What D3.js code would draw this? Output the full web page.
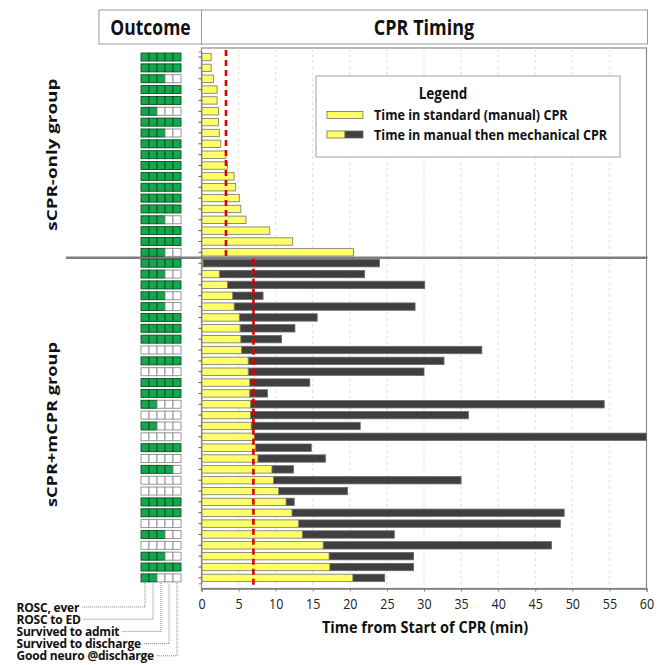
<!DOCTYPE html>
<html>
<head>
<meta charset="utf-8">
<script src="https://cdn.jsdelivr.net/npm/d3@7"></script>
<style>
  body { margin: 0; background: #fff; }
  svg { font-family: "Open Sans", "Noto Sans", sans-serif; }
</style>
</head>
<body>
<svg id="chart" width="665" height="665"></svg>
<script>
// sCPR-only group: minutes of manual CPR, one per patient (top to bottom)
var sManual = [1.3, 1.3, 1.6, 2.1, 2.1, 2.3, 2.3, 2.4, 2.6, 3.3, 3.5, 4.4, 4.6, 5.1, 5.3, 6.0, 9.2, 12.3, 20.5];
// outcome boxes filled (ROSC ever, ROSC to ED, admit, discharge, good neuro)
var sOutcome = [5, 5, 3, 5, 5, 2, 5, 3, 5, 5, 5, 5, 5, 5, 5, 3, 5, 5, 3];

// sCPR+mCPR group: manual minutes, then total minutes (manual + mechanical)
var mManual = [0.2, 2.4, 3.5, 4.2, 4.4, 5.1, 5.2, 5.3, 5.4, 6.3, 6.3, 6.5, 6.5, 6.6, 6.6,
               6.7, 7.1, 7.3, 7.6, 9.5, 9.7, 10.4, 11.4, 12.2, 13.1, 13.6, 16.4, 17.2, 17.3, 20.4];
var mTotal = [24.0, 22.0, 30.1, 8.3, 28.8, 15.6, 12.6, 10.8, 37.8, 32.7, 30.0, 14.6, 8.9, 54.3, 36.0,
              21.4, 60.0, 14.8, 16.7, 12.4, 35.0, 19.7, 12.5, 48.9, 48.4, 26.0, 47.2, 28.6, 28.6, 24.7];
var mOutcome = [5, 3, 5, 3, 3, 5, 5, 5, 0, 5, 0, 5, 5, 2, 0,
                2, 0, 5, 0, 4, 0, 0, 5, 5, 0, 3, 0, 3, 5, 2];

// group means (red dashed lines)
var groupMeans = [3.3, 7.0];

var outcomeLabels = ["ROSC, ever", "ROSC to ED", "Survived to admit", "Survived to discharge", "Good neuro @discharge"];
var groupLabels = ["sCPR-only group", "sCPR+mCPR group"];
var xTicks = [0, 5, 10, 15, 20, 25, 30, 35, 40, 45, 50, 55, 60];

// build rows
var rows = [];
sManual.forEach(function (d, i) {
  rows.push({ group: 0, manual: d, total: d, outcome: sOutcome[i] });
});
mManual.forEach(function (d, i) {
  rows.push({ group: 1, manual: d, total: mTotal[i], outcome: mOutcome[i] });
});
rows.forEach(function (d, i) { d.id = i; });

var svg = d3.select("#chart");

// text that is a bit taller than wide, like the original
function label(parent, x, y, str, size, k, anchor) {
  return parent.append("text")
    .attr("transform", "translate(" + x + "," + y + ") scale(1," + k + ")")
    .attr("text-anchor", anchor || "start")
    .attr("font-size", size).attr("font-weight", "bold").attr("fill", "#111")
    .text(str);
}

var plotLeft = 201.5, plotRight = 646.5, plotTop = 48, plotBottom = 588.5;

var x = d3.scaleLinear().domain([0, 60]).range([plotLeft, plotRight]);
var y = d3.scaleBand().domain(rows.map(function (d) { return d.id; }))
  .range([51.6, 583.3]).paddingInner(0.32).paddingOuter(0.16);
var rowY = function (d) { return y(d.id) + y.bandwidth() / 2; };

// header boxes
svg.append("rect").attr("x", 99).attr("y", 10).attr("width", plotLeft - 99).attr("height", 34)
  .attr("fill", "#fff").attr("stroke", "#9a9a9a");
svg.append("rect").attr("x", plotLeft).attr("y", 10).attr("width", 647.5 - plotLeft).attr("height", 34)
  .attr("fill", "#fff").attr("stroke", "#9a9a9a");
label(svg, 150.5, 34.5, "Outcome", 17.5, 1.2, "middle");
label(svg, 424, 34.5, "CPR Timing", 18, 1.15, "middle");

// plot frame
svg.append("rect").attr("x", plotLeft).attr("y", plotTop)
  .attr("width", plotRight - plotLeft).attr("height", plotBottom - plotTop)
  .attr("fill", "#fff").attr("stroke", "#8a8a8a").attr("stroke-width", 1.2);

// gridlines
svg.append("g").selectAll("line").data(xTicks.slice(1, -1)).enter().append("line")
  .attr("x1", function (d) { return x(d); }).attr("x2", function (d) { return x(d); })
  .attr("y1", plotTop).attr("y2", plotBottom)
  .attr("stroke", "#dcdcb8").attr("stroke-width", 0.8).attr("stroke-dasharray", "3,3");

// legend
var lg = svg.append("g");
lg.append("rect").attr("x", 316).attr("y", 76).attr("width", 304).attr("height", 81)
  .attr("fill", "#fff").attr("stroke", "#a0a0a0");
label(lg, 443, 99, "Legend", 13.5, 1.15, "middle");
lg.append("rect").attr("x", 327).attr("y", 111.5).attr("width", 36).attr("height", 7)
  .attr("fill", "#ffff66").attr("stroke", "#6e6e6e").attr("stroke-width", 0.8);
lg.append("rect").attr("x", 327).attr("y", 131).attr("width", 18).attr("height", 7)
  .attr("fill", "#ffff66").attr("stroke", "#6e6e6e").attr("stroke-width", 0.8);
lg.append("rect").attr("x", 345).attr("y", 131).attr("width", 18).attr("height", 7)
  .attr("fill", "#3f3f3f").attr("stroke", "#6e6e6e").attr("stroke-width", 0.8);
label(lg, 374, 120, "Time in standard (manual) CPR", 12.6, 1.12);
label(lg, 374, 139.5, "Time in manual then mechanical CPR", 12.6, 1.12);

// bars
var bars = svg.append("g");
bars.selectAll(".mech").data(rows.filter(function (d) { return d.group == 1; })).enter().append("rect")
  .attr("class", "mech")
  .attr("x", function (d) { return x(d.manual); })
  .attr("y", function (d) { return y(d.id); })
  .attr("width", function (d) { return x(d.total) - x(d.manual); })
  .attr("height", y.bandwidth())
  .attr("fill", "#3f3f3f").attr("stroke", "#6a6a6a").attr("stroke-width", 0.8);
bars.selectAll(".man").data(rows).enter().append("rect")
  .attr("class", "man")
  .attr("x", x(0))
  .attr("y", function (d) { return y(d.id); })
  .attr("width", function (d) { return x(d.manual) - x(0); })
  .attr("height", y.bandwidth())
  .attr("fill", "#ffff66").attr("stroke", "#747474").attr("stroke-width", 0.8);

// y axis (small ticks only)
svg.append("g").attr("transform", "translate(" + plotLeft + ",0)")
  .call(d3.axisLeft(y).tickSize(3).tickFormat(""))
  .call(function (g) {
    g.select(".domain").attr("stroke", "#8a8a8a");
    g.selectAll(".tick line").attr("stroke", "#555");
  });

// group divider
var divY = (rowY(rows[sManual.length - 1]) + rowY(rows[sManual.length])) / 2;
svg.append("line").attr("x1", 66).attr("x2", plotRight + 1).attr("y1", divY).attr("y2", divY)
  .attr("stroke", "#7f7f7f").attr("stroke-width", 2.5);

// red mean lines
svg.append("line").attr("x1", x(groupMeans[0])).attr("x2", x(groupMeans[0]))
  .attr("y1", plotTop + 2).attr("y2", divY)
  .attr("stroke", "#e00000").attr("stroke-width", 2.6).attr("stroke-dasharray", "6,4");
svg.append("line").attr("x1", x(groupMeans[1])).attr("x2", x(groupMeans[1]))
  .attr("y1", divY + 1).attr("y2", plotBottom)
  .attr("stroke", "#e00000").attr("stroke-width", 2.6).attr("stroke-dasharray", "6,4");

// x axis
var xa = svg.append("g").attr("transform", "translate(0," + plotBottom + ")")
  .call(d3.axisBottom(x).tickValues(xTicks).tickSize(3).tickPadding(6));
xa.select(".domain").attr("stroke", "#7a7a7a").attr("stroke-width", 1.4);
xa.selectAll(".tick line").attr("stroke", "#7a7a7a");
xa.selectAll(".tick text").attr("font-size", 12.5).attr("fill", "#222")
  .attr("transform", "scale(1,1.15)")
  .attr("font-family", "\"Open Sans\", sans-serif");
label(svg, 425, 633, "Time from Start of CPR (min)", 14.5, 1.15, "middle");

// outcome cells
var cellW = 8, cellLeft = 141, cellH = 8;
var cellX = d3.scaleBand().domain(d3.range(5)).range([cellLeft, cellLeft + 5 * cellW]);
var cellRows = svg.append("g").selectAll("g").data(rows).enter().append("g")
  .attr("transform", function (d) { return "translate(0," + (rowY(d) - cellH / 2) + ")"; });
cellRows.selectAll("rect").data(function (d) {
  return d3.range(5).map(function (k) { return { k: k, on: k < d.outcome }; });
}).enter().append("rect")
  .attr("x", function (c) { return cellX(c.k); })
  .attr("y", 0).attr("width", cellW).attr("height", cellH)
  .attr("fill", function (c) { return c.on ? "#14a84e" : "#fff"; })
  .attr("stroke", function (c) { return c.on ? "#0b4f23" : "#8c8c8c"; })
  .attr("stroke-width", 0.9);

// group labels (rotated, stretched along their length like the original)
var groupRows = [rows.filter(function (d) { return d.group == 0; }),
                 rows.filter(function (d) { return d.group == 1; })];
var groupLen = [152, 165];
groupRows.forEach(function (g, i) {
  var cy = (rowY(g[0]) + rowY(g[g.length - 1])) / 2;
  svg.append("text").attr("transform", "translate(56.5," + (cy + (i == 1 ? 4 : 0)) + ") rotate(-90)")
    .attr("text-anchor", "middle").attr("font-size", 15).attr("font-weight", "bold").attr("fill", "#111")
    .attr("textLength", groupLen[i]).attr("lengthAdjust", "spacingAndGlyphs")
    .text(groupLabels[i]);
});

// outcome key with dotted leaders
var lastRowBottom = rowY(rows[rows.length - 1]) + cellH / 2 + 1;
outcomeLabels.forEach(function (lab, i) {
  var by = 611.5 + i * 12.2;
  var t = label(svg, 16.5, by, lab, 12, 1.05).attr("letter-spacing", -0.2);
  var tw = t.node().getComputedTextLength();
  var cx = cellX(i) + cellW / 2;
  var ly = by - 4.5;
  svg.append("path")
    .attr("d", "M" + (16.5 + tw + 3) + "," + ly + "H" + cx + "V" + lastRowBottom)
    .attr("fill", "none").attr("stroke", "#7a7a7a").attr("stroke-width", 1)
    .attr("stroke-dasharray", "1,1");
});
</script>
</body>
</html>
